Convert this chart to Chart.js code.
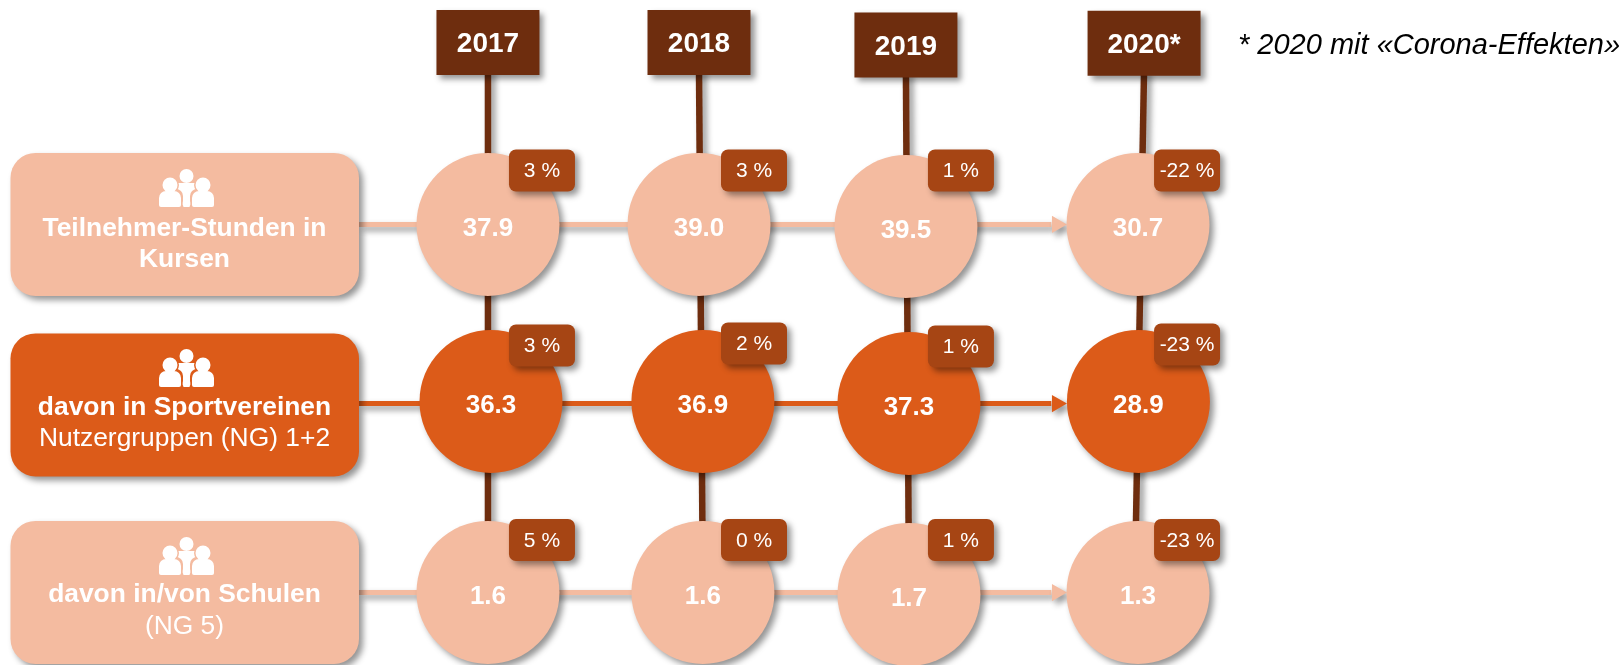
<!DOCTYPE html>
<html lang="de">
<head>
<meta charset="utf-8">
<title>Teilnehmer-Stunden 2017-2020</title>
<script src="https://cdn.jsdelivr.net/npm/chart.js@4/dist/chart.umd.min.js"></script>
<style>
    html, body { margin: 0; padding: 0; background: #fff; overflow: hidden; }
    canvas { display: block; }
</style>
</head>
<body>
<canvas id="hoursChart" width="1624" height="665"></canvas>
<script>
// data
const years = ['2017', '2018', '2019', '2020*'];
const rowTitles = ['Teilnehmer-Stunden in', 'davon in Sportvereinen', 'davon in/von Schulen'];
const rowSubtitles = ['Kursen', 'Nutzergruppen (NG) 1+2', '(NG 5)'];
const courseHours = [37.9, 39.0, 39.5, 30.7];
const clubHours = [36.3, 36.9, 37.3, 28.9];
const schoolHours = [1.6, 1.6, 1.7, 1.3];
const courseChange = [3, 3, 1, -22];
const clubChange = [3, 2, 1, -23];
const schoolChange = [5, 0, 1, -23];
const footnote = '* 2020 mit «Corona-Effekten»';

const rowValues = [courseHours, clubHours, schoolHours];
const rowChanges = [courseChange, clubChange, schoolChange];

// layout, in scale units (x = columns, y = rows)
const colSlots = [
    [0, 0.974, 1.929, 3],
    [0.014, 0.992, 1.943, 3.002],
    [0, 0.992, 1.943, 3]
];
const rowSlots = [0, 1, 2.079];
const colRowNudge = [0, 0, 0.011, 0];
const lineRowSlots = [0, 1.012, 2.08];
const headerColSlots = [0, 0.974, 1.929, 3.028];
const headerRowSlots = [-1.028, -1.028, -1.014, -1.023];
const headerWidths = [103, 103, 103, 113];
const headerHeight = 65;
const stemBottoms = [0, 0.992, 1.943, 2.985];
const tileEdgeSlot = -0.595;
const arrowEndSlot = 2.6;
const arrowHeadSlot = 2.626;

// layout in pixels, relative to each row
const tileShift = [0, 3.5, 0];
const iconTop = [-55.5, -52.5, -55.5];
const titleDrop = [4, 6, 2];
const subtitleDrop = [35, 37.5, 34.5];
const badgeRise = [-54, -56, -52.5];
const badgeShiftX = [54, 55, 55, 43];
const clubBadgeNudge = [0, -2, 1, -1];

const lightColor = '#f4bba0';
const darkColor = '#dc5b19';
const brownColor = '#6e2d0e';
const badgeColor = '#a64514';
const rowColors = [lightColor, darkColor, lightColor];
const fontName = '"Liberation Sans", Arial, sans-serif';

function setShadow(ctx) {
    ctx.shadowColor = 'rgba(0, 0, 0, 0.42)';
    ctx.shadowBlur = 6;
    ctx.shadowOffsetX = 4;
    ctx.shadowOffsetY = 4;
}

function fillRound(ctx, x, y, w, h, r, color) {
    ctx.fillStyle = color;
    ctx.beginPath();
    ctx.roundRect(x, y, w, h, r);
    ctx.fill();
}

function drawText(ctx, text, x, y, font, color, align) {
    ctx.font = font;
    ctx.fillStyle = color;
    ctx.textAlign = align || 'center';
    ctx.textBaseline = 'middle';
    ctx.fillText(text, x, y);
}

// three people icon, cx/top = top centre of the icon
function drawPeople(ctx, cx, top, bg) {
    ctx.save();
    ctx.fillStyle = '#fff';
    ctx.beginPath();
    ctx.arc(cx, top + 7, 7, 0, Math.PI * 2);
    ctx.fill();
    ctx.beginPath();
    ctx.moveTo(cx - 11, top + 14);
    ctx.lineTo(cx + 11, top + 14);
    ctx.lineTo(cx + 3, top + 38);
    ctx.lineTo(cx - 3, top + 38);
    ctx.closePath();
    ctx.fill();
    [-1, 1].forEach(side => {
        const px = cx + side * 16.5;
        ctx.fillStyle = bg;
        ctx.beginPath();
        ctx.arc(px, top + 16, 9, 0, Math.PI * 2);
        ctx.fill();
        fillRound(ctx, px - 13, top + 20, 26, 19, 7, bg);
        ctx.fillStyle = '#fff';
        ctx.beginPath();
        ctx.arc(px, top + 16, 7.5, 0, Math.PI * 2);
        ctx.fill();
        fillRound(ctx, px - 11, top + 22, 22, 16, [7, 7, 2, 2], '#fff');
    });
    ctx.restore();
}

// drop shadow for every dataset
const shadowPlugin = {
    id: 'shadowPlugin',
    beforeDatasetDraw(chart) {
        chart.ctx.save();
        setShadow(chart.ctx);
    },
    afterDatasetDraw(chart) {
        chart.ctx.restore();
    }
};

// tiles, year headers, value labels and badges
const labelPlugin = {
    id: 'labelPlugin',
    afterDatasetsDraw(chart) {
        const ctx = chart.ctx;
        const xs = chart.scales.x;
        const ys = chart.scales.y;

        years.forEach((year, i) => {
            const cx = xs.getPixelForValue(headerColSlots[i]);
            const cy = ys.getPixelForValue(headerRowSlots[i]);
            const w = headerWidths[i];
            ctx.save();
            setShadow(ctx);
            fillRound(ctx, cx - w / 2, cy - headerHeight / 2, w, headerHeight, 0, brownColor);
            ctx.restore();
            drawText(ctx, year, cx, cy + 2, 'bold 28px ' + fontName, '#fff');
        });

        rowTitles.forEach((title, r) => {
            const cy = ys.getPixelForValue(rowSlots[r]);
            ctx.save();
            setShadow(ctx);
            fillRound(ctx, 10.5, cy + tileShift[r] - 71.5, 348.5, 143, 25, rowColors[r]);
            ctx.restore();
            drawPeople(ctx, 186.5, cy + iconTop[r], rowColors[r]);
            drawText(ctx, title, 184.5, cy + titleDrop[r], 'bold 26.4px ' + fontName, '#fff');
            const subFont = r === 0 ? 'bold 26.4px ' : '26.4px ';
            drawText(ctx, rowSubtitles[r], 184.5, cy + subtitleDrop[r], subFont + fontName, '#fff');

            rowValues[r].forEach((value, c) => {
                const x = xs.getPixelForValue(colSlots[r][c]);
                const y = ys.getPixelForValue(rowSlots[r] + colRowNudge[c]);
                drawText(ctx, value.toFixed(1), x, y + 4.5, 'bold 26px ' + fontName, '#fff');

                const bx = xs.getPixelForValue(headerColSlots[c]) + badgeShiftX[c];
                const by = cy + badgeRise[r] + (r === 1 ? clubBadgeNudge[c] : 0);
                ctx.save();
                setShadow(ctx);
                fillRound(ctx, bx - 33, by - 21, 66, 42, 7, badgeColor);
                ctx.restore();
                drawText(ctx, rowChanges[r][c] + ' %', bx, by + 1, '21px ' + fontName, '#fff');
            });
        });

        drawText(ctx, footnote, 1238, 46, 'italic 29px ' + fontName, '#000', 'left');
    }
};

function buildDatasets() {
    const datasets = [];

    // circles on top
    rowValues.forEach((values, r) => {
        datasets.push({
            label: rowTitles[r],
            data: values.map((v, c) => ({ x: colSlots[r][c], y: rowSlots[r] + colRowNudge[c], v: v })),
            backgroundColor: rowColors[r],
            borderWidth: 0,
            pointRadius: 71.5,
            clip: false,
            order: 1
        });
    });

    // arrow heads
    rowTitles.forEach((title, r) => {
        datasets.push({
            data: [{ x: arrowHeadSlot, y: lineRowSlots[r] }],
            pointStyle: 'triangle',
            rotation: 90,
            backgroundColor: rowColors[r],
            borderWidth: 0,
            pointRadius: 10,
            order: 2
        });
    });

    // horizontal lines from tile to arrow
    rowTitles.forEach((title, r) => {
        datasets.push({
            data: [{ x: tileEdgeSlot, y: lineRowSlots[r] }, { x: arrowEndSlot, y: lineRowSlots[r] }],
            showLine: true,
            borderColor: rowColors[r],
            borderWidth: 5,
            pointRadius: 0,
            order: 3
        });
    });

    // vertical stems from year header to last row
    years.forEach((year, c) => {
        datasets.push({
            data: [{ x: headerColSlots[c], y: headerRowSlots[c] + 0.15 }, { x: stemBottoms[c], y: rowSlots[2] }],
            showLine: true,
            borderColor: brownColor,
            borderWidth: 6.5,
            pointRadius: 0,
            order: 4
        });
    });

    return datasets;
}

new Chart(document.getElementById('hoursChart').getContext('2d'), {
    type: 'scatter',
    data: { datasets: buildDatasets() },
    options: {
        responsive: false,
        animation: false,
        layout: { padding: 0, autoPadding: false },
        plugins: {
            legend: { display: false },
            tooltip: { enabled: false },
            title: { display: false }
        },
        scales: {
            x: { type: 'linear', display: false, min: -2.252, max: 5.243 },
            y: { type: 'linear', display: false, reverse: true, min: -1.268, max: 2.489 }
        }
    },
    plugins: [shadowPlugin, labelPlugin]
});
</script>
</body>
</html>
